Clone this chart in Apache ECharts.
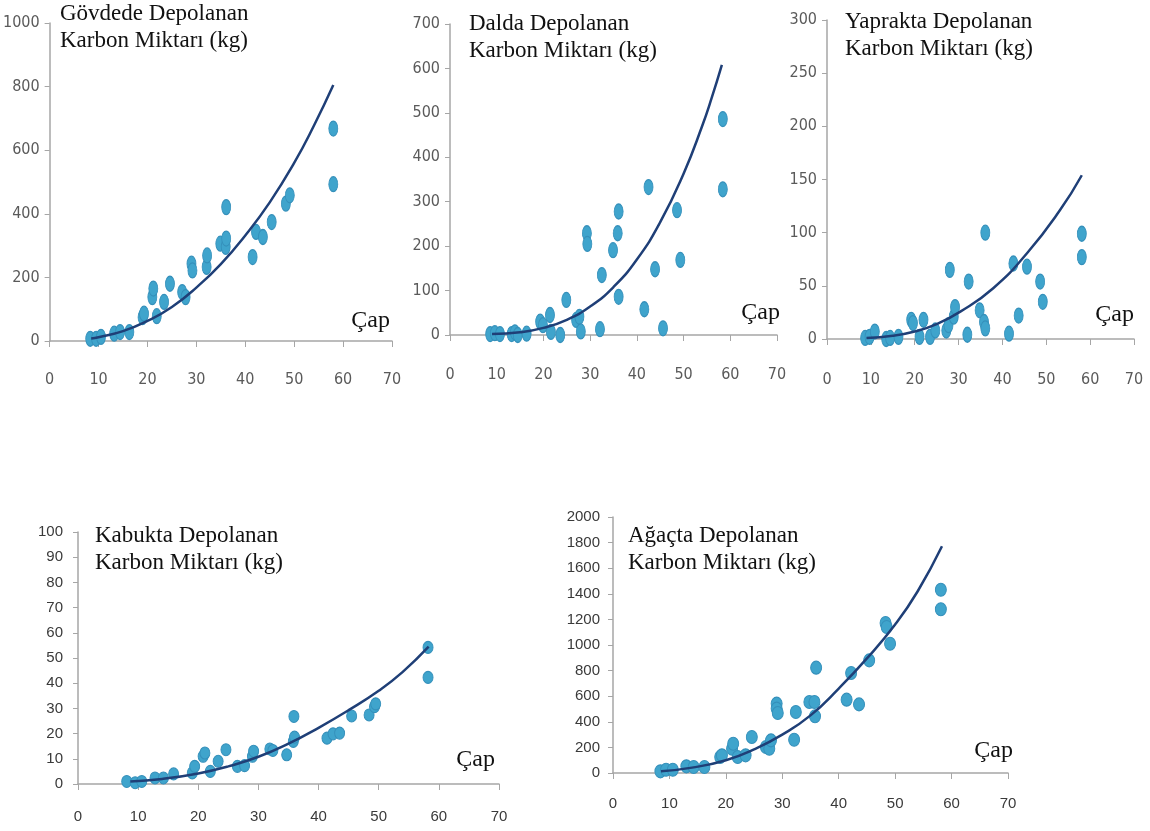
<!DOCTYPE html>
<html>
<head>
<meta charset="utf-8">
<script src="https://cdn.jsdelivr.net/npm/echarts@6/dist/echarts.min.js"></script>
<style>html,body{margin:0;padding:0;background:#fff}#c{width:1150px;height:831px}</style>
</head>
<body>
<div id="c"></div>
<script>
// ---- data (diameter "Çap" in cm, carbon in kg) ----
var titles = [
  'Gövdede Depolanan\nKarbon Miktarı (kg)',
  'Dalda Depolanan\nKarbon Miktarı (kg)',
  'Yaprakta Depolanan\nKarbon Miktarı (kg)',
  'Kabukta Depolanan\nKarbon Miktarı (kg)',
  'Ağaçta Depolanan\nKarbon Miktarı (kg)'
];
var xAxisName = 'Çap';
var xTicks = [0, 70, 10];            // min, max, interval
var yTicks = [[0,1000,200],[0,700,100],[0,300,50],[0,100,10],[0,2000,200]];

var stemPoints = [[8.3,7],[9.5,7],[10.5,13],[13.2,23],[14.4,28],[16.3,28],[19.0,75],[19.3,86],[21.0,138],[21.2,165],[21.9,78],[23.4,123],[24.6,180],[27.1,154],[27.8,138],[29.0,243],[29.2,222],[32.1,233],[32.2,269],[34.9,306],[36.0,296],[36.1,322],[36.1,421],[41.5,264],[42.2,343],[43.6,327],[45.4,374],[48.3,432],[49.1,458],[58,668],[58,493]];
var stemTrend = [[8.5,8],[10,12],[15,31],[20,63],[25,107],[30,168],[35,242],[40,332],[45,436],[50,560],[54,676],[58,805]];

var branchPoints = [[8.6,2],[9.6,4],[10.7,2],[13.2,2],[13.9,6],[14.5,0],[16.4,3],[19.3,30],[19.9,22],[21.4,45],[21.6,7],[23.6,0],[24.9,79],[27,34],[27.7,41],[28,8],[29.3,229],[29.4,205],[32.1,13],[32.5,135],[34.9,191],[35.9,229],[36.1,278],[36.1,86],[41.6,58],[42.5,333],[43.9,148],[45.6,15],[48.6,281],[49.3,169],[58.4,486],[58.4,328]];
var branchTrend = [[9,2],[15,6],[20,16],[25,34],[30,64],[35,108],[40,170],[45,254],[50,363],[54,471],[56,533],[58.2,608]];

var leafPoints = [[8.7,1],[9.7,2],[10.9,7],[13.5,0],[14.4,1],[16.3,2],[19.2,18],[19.6,15],[21.1,2],[22.0,18],[23.5,2],[24.7,8],[27.2,8],[27.7,13],[28.0,65],[28.9,21],[29.2,30],[32.0,4],[32.3,54],[34.8,27],[35.8,16],[36.1,10],[36.1,100],[41.5,5],[42.5,71],[43.7,22],[45.6,68],[48.6,54],[49.2,35],[58.1,99],[58.1,77]];
var leafTrend = [[9,1],[15,3],[20,7],[25,14],[30.4,25.7],[37.9,47.7],[45.6,80.6],[53.1,121],[58.1,154]];

var barkPoints = [[8.1,1],[9.5,0.5],[10.6,1],[12.8,2.4],[14.2,2.4],[15.9,4],[19.0,4.4],[19.4,7],[20.8,11],[21.1,12.3],[22.0,5],[23.3,9],[24.6,13.6],[26.5,7],[27.7,7.3],[29.0,11],[29.2,13],[31.9,13.9],[32.4,13.3],[34.7,11.6],[35.8,16.9],[35.9,26.8],[36.0,18.6],[41.4,18.2],[42.4,19.9],[43.5,20.2],[45.5,27],[48.4,27.4],[49.3,30.7],[49.5,31.8],[58.2,54.2],[58.2,42.3]];
var barkTrend = [[8.7,1],[14,2],[20,4.2],[25,7],[30,10.8],[35,16],[40,22.3],[45,29.3],[50,37],[54,44.5],[58.3,54.5]];

var treePoints = [[8.4,13],[9.4,26],[10.6,26],[13,52],[14.3,47],[16.2,47],[19.0,125],[19.3,138],[21.1,190],[21.3,229],[22.1,125],[23.5,138],[24.6,281],[27.1,203],[27.7,190],[28,255],[29,542],[29,503],[29.2,469],[32.1,260],[32.4,477],[34.8,555],[35.7,555],[35.8,443],[36,823],[41.4,573],[42.2,781],[43.6,536],[45.4,880],[48.3,1172],[48.5,1140],[49.1,1010],[58.1,1432],[58.1,1279]];
var treeTrend = [[8.5,13],[14,42],[20,100],[25,185],[30,300],[35,450],[40,660],[45,895],[50,1160],[54,1420],[58.3,1771]];

var pointSets = [stemPoints, branchPoints, leafPoints, barkPoints, treePoints];
var trendSets = [stemTrend, branchTrend, leafTrend, barkTrend, treeTrend];

// ---- layout / style ----
var grids = [
  {left:48,  top:23,  width:344, height:318},
  {left:450, top:24,  width:327, height:311},
  {left:827, top:20,  width:307, height:319},
  {left:78,  top:532, width:421, height:252},
  {left:613, top:517, width:395, height:256}
];
var titlePos = [[60,0],[469,10],[845,8],[95,522],[628,522]];
var xLabelMargin = [31,32,33,25,23];
var yLabelMargin = [10,10,10,15,13];
var capGap = [-2,3,0,-4,5];
var capPad = [8,10,12,12,10];
var symSizes = [[9,15],[9,15],[9,15],[10,12],[11,13]];
var topFont = {fontFamily:'"Liberation Sans Narrow","DejaVu Sans Condensed","Liberation Sans",sans-serif', fontSize:16, color:'#5a5a5a'};
var botFont = {fontFamily:'"Liberation Sans","DejaVu Sans",sans-serif', fontSize:15, color:'#3a3a3a'};
var serif = '"Liberation Serif","Times New Roman",serif';
var axisCol = '#a6a6a6';
function plain(v) { return String(v); }

var option = {
  animation:false,
  backgroundColor:'#fff',
  title: [], grid: [], xAxis: [], yAxis: [], series: []
};
for (var i = 0; i < 5; i++) {
  var f = i < 3 ? topFont : botFont;
  option.title.push({
    text: titles[i], left: titlePos[i][0], top: titlePos[i][1], padding: 0,
    textStyle: {fontFamily: serif, fontSize: 23, fontWeight: 'normal', color: '#111', lineHeight: 27}
  });
  option.grid.push(Object.assign({containLabel:false}, grids[i]));
  option.xAxis.push({
    type:'value', gridIndex:i, min:xTicks[0], max:xTicks[1], interval:xTicks[2],
    name: xAxisName, nameLocation:'end', nameGap: capGap[i],
    nameTextStyle: {fontFamily: serif, fontSize: 24, color:'#111', align:'right', verticalAlign:'bottom', padding:[0,0,capPad[i],0]},
    axisLine:{show:true, onZero:true, lineStyle:{color:axisCol, width:1.5}},
    axisTick:{show:true, length:6, lineStyle:{color:axisCol}},
    axisLabel:{margin: xLabelMargin[i], fontFamily:f.fontFamily, fontSize:f.fontSize, color:f.color, formatter: plain},
    splitLine:{show:false}
  });
  option.yAxis.push({
    type:'value', gridIndex:i, min:yTicks[i][0], max:yTicks[i][1], interval:yTicks[i][2],
    axisLine:{show:true, lineStyle:{color:axisCol, width:1.5}},
    axisTick:{show:true, length:5, lineStyle:{color:axisCol}},
    axisLabel:{margin: yLabelMargin[i], fontFamily:f.fontFamily, fontSize:f.fontSize, color:f.color, formatter: plain},
    splitLine:{show:false}
  });
  option.series.push({
    type:'scatter', xAxisIndex:i, yAxisIndex:i, data: pointSets[i],
    symbol:'circle', symbolSize: symSizes[i],
    itemStyle:{color:'#3fa4cc', borderColor:'#3590bb', borderWidth:1, opacity:1},
    z:2
  });
  option.series.push({
    type:'line', xAxisIndex:i, yAxisIndex:i, data: trendSets[i],
    smooth:0.5, showSymbol:false, symbol:'none',
    lineStyle:{color:'#1f3f77', width:2.5}, z:3
  });
}
var chart = echarts.init(document.getElementById('c'), null, {renderer:'canvas'});
chart.setOption(option);
</script>
</body>
</html>
